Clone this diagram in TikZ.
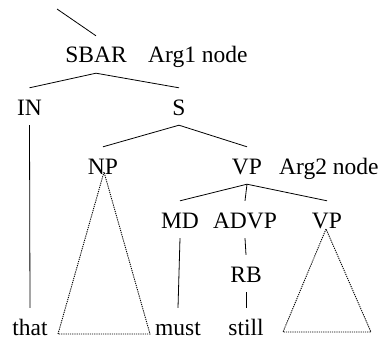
\documentclass[tikz,border=0pt]{standalone}
\usepackage{fontspec}
\setmainfont{Liberation Serif}
\begin{document}
\begin{tikzpicture}[x=1pt,y=-1pt,
  lab/.style={inner sep=0pt,text height=27pt,text depth=10pt,anchor=base,font=\fontsize{23.5}{26}\selectfont},
  note/.style={inner sep=0pt,anchor=base west,font=\fontsize{23.5}{26}\selectfont},
  edge/.style={line width=0.8pt},
  tri/.style={line width=0.9pt,dash pattern=on 1.2pt off 1pt}]
\useasboundingbox (0,0) rectangle (381,340);
\node[lab] (sbar) at (96,63) {SBAR};
\node[note] (arg1) at (148,63) {Arg1 node};
\node[lab] (in) at (29.5,115) {IN};
\node[lab] (s) at (179,115) {S};
\node[lab] (np) at (103,174) {NP};
\node[lab] (vp) at (247,174) {VP};
\node[note] (arg2) at (279,174) {Arg2 node};
\node[lab] (md) at (180,228) {MD};
\node[lab] (advp) at (245,228) {ADVP};
\node[lab] (vp2) at (327,228) {VP};
\node[lab] (rb) at (246,282) {RB};
\node[lab] (that) at (30,335) {that};
\node[lab] (must) at (178,335) {must};
\node[lab] (still) at (246,335) {still};
\coordinate (top) at (57,9);
\draw[edge] (top) -- (sbar.north);
\draw[edge] (sbar.south) -- (in.north);
\draw[edge] (sbar.south) -- (s.north);
\draw[edge] (s.south) -- (np.north);
\draw[edge] (s.south) -- (vp.north);
\draw[edge] (vp.south) -- (md.north);
\draw[edge] (vp.south) -- (advp.north);
\draw[edge] (vp.south) -- (vp2.north);
\draw[edge] (in.south) -- (that.north);
\draw[edge] (md.south) -- (must.north);
\draw[edge] (advp.south) -- (rb.north);
\draw[edge] (rb.south) -- (still.north);
\coordinate (npl) at (58,334);
\coordinate (npr) at (150,334);
\coordinate (npa) at (104,172);
\draw[tri] (npa) -- (npl) -- (npr) -- cycle;
\coordinate (vpl) at (283,332);
\coordinate (vpr) at (371,332);
\coordinate (vpa) at (326,229);
\draw[tri] (vpa) -- (vpl) -- (vpr) -- cycle;
\end{tikzpicture}
\end{document}
